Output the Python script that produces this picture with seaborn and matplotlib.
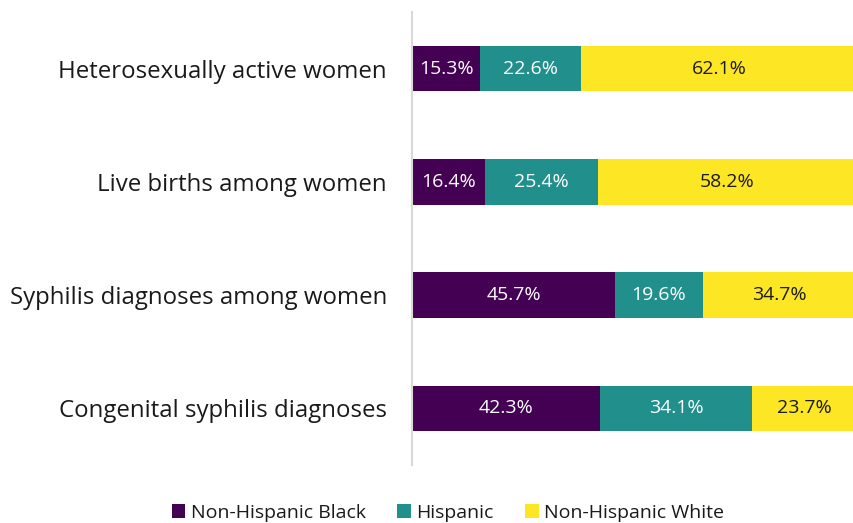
import matplotlib
matplotlib.use("Agg")
import matplotlib.pyplot as plt
from matplotlib.patches import Patch
import numpy as np
import pandas as pd
import seaborn as sns

categories = [
    "Heterosexually active women",
    "Live births among women",
    "Syphilis diagnoses among women",
    "Congenital syphilis diagnoses",
]
black = [15.3, 16.4, 45.7, 42.3]
hispanic = [22.6, 25.4, 19.6, 34.1]
white = [62.1, 58.2, 34.7, 23.7]

series_names = ["Non-Hispanic Black", "Hispanic", "Non-Hispanic White"]
colors = ["#440154", "#21908C", "#FDE725"]
text_colors = ["white", "white", "#1a1a1a"]

sns.set_theme(style="white")
plt.rcParams["font.family"] = ["Open Sans", "DejaVu Sans"]

fig = plt.figure(figsize=(8.54, 5.23), dpi=100)
ax = fig.add_axes([412 / 854, 1 - 465 / 523, 445 / 854, (465 - 12) / 523])

values = np.array([black, hispanic, white])
cum = values.cumsum(axis=0)
df = pd.DataFrame({"category": categories})

# Stacked bars: draw cumulative totals from the largest down
for i in reversed(range(3)):
    df["v"] = cum[i]
    sns.barplot(data=df, x="v", y="category", color=colors[i], width=0.4,
                saturation=1, orient="h", ax=ax, edgecolor="none")

for i in range(3):
    starts = cum[i] - values[i]
    for j, (s, v) in enumerate(zip(starts, values[i])):
        ax.text(s + v / 2, j, f"{v:.1f}%", ha="center", va="center",
                color=text_colors[i], fontsize=14)

ax.set_xlim(0, 100)
ax.set_ylim(3.5, -0.5)
ax.set_xlabel("")
ax.set_ylabel("")
ax.set_xticks([])
ax.tick_params(axis="y", length=0, pad=18, labelsize=17.3, colors="#1a1a1a")
for side in ["top", "right", "bottom"]:
    ax.spines[side].set_visible(False)
ax.spines["left"].set_color("#d9d9d9")
ax.spines["left"].set_linewidth(1.5)

handles = [Patch(facecolor=c, edgecolor="none") for c in colors]
fig.legend(handles, series_names, loc="center", bbox_to_anchor=(448 / 854, 1 - 513 / 523),
           ncol=3, frameon=False, fontsize=14, handlelength=0.7, handleheight=0.7,
           handletextpad=0.3, columnspacing=1.6, labelcolor="#1a1a1a")

fig.savefig("out.png", dpi=100)
